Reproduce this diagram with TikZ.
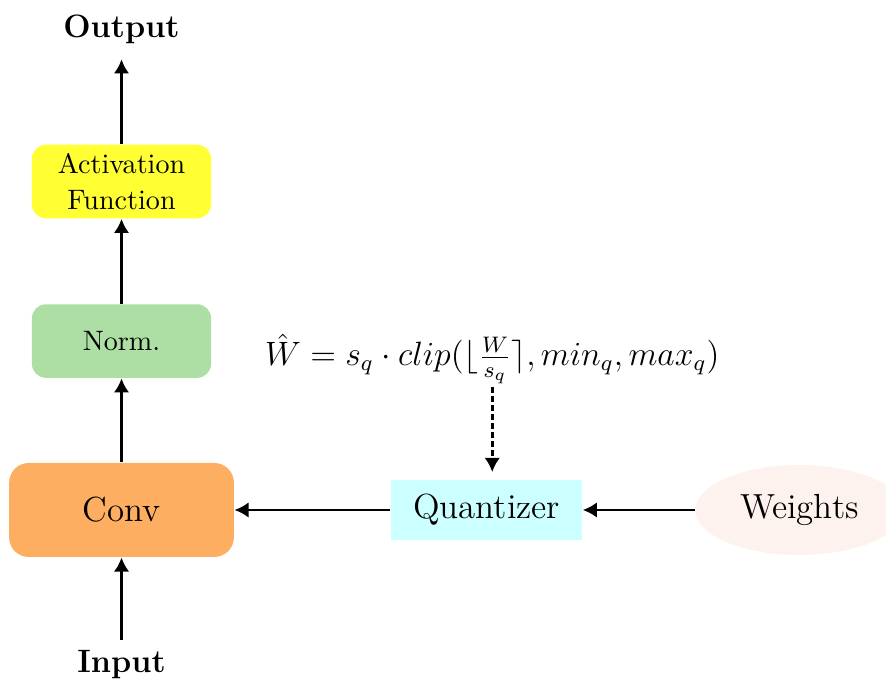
\documentclass[tikz,border=0pt]{standalone}
\usepackage{amsmath,amssymb}
\usepackage{xcolor}
\usepackage{tikz}
\usetikzlibrary{positioning,shapes.geometric,arrows.meta}
\definecolor{actyellow}{HTML}{FFFF33}
\definecolor{normgreen}{HTML}{ADDFA5}
\definecolor{convorange}{HTML}{FDAE61}
\definecolor{quantcyan}{HTML}{CCFFFF}
\definecolor{weightpeach}{HTML}{FDF2EE}

\begin{document}
\begin{tikzpicture}[
    block/.style={rectangle, rounded corners=5pt, minimum width=2.24cm, minimum height=0.92cm,
        inner ysep=2pt, align=center, font=\fontsize{10}{12.5}\selectfont},
    big/.style={font=\fontsize{12.4}{15}\selectfont},
    io/.style={font=\fontsize{11.5}{13}\selectfont\bfseries},
    arr/.style={-{Latex[length=5pt, width=5.5pt]}, line width=0.9pt}
]
\useasboundingbox (-1.519,-2.15) rectangle (9.556,6.375);
\node[block, big, fill=convorange, rounded corners=7pt, minimum width=2.81cm, minimum height=1.175cm] (conv) at (0,0) {Conv};
\node[block, fill=normgreen, above=1.05cm of conv] (norm) {Norm.};
\node[block, fill=actyellow, above=1.06cm of norm] (act) {Activation\\Function};
\node[io, above=1.13cm of act] (output) {Output};
\node[io, below=1.03cm of conv] (input) {Input};
\node[rectangle, big, fill=quantcyan, minimum width=2.39cm, minimum height=0.76cm, right=1.95cm of conv] (quant) {Quantizer};
\node[ellipse, big, fill=weightpeach, minimum width=2.6cm, minimum height=1.125cm, right=1.4cm of quant] (weights) {Weights};
\node[font=\fontsize{12}{14}\selectfont, above=1.15cm of quant, xshift=0.07cm, inner sep=1pt] (formula)
    {$\hat{W} = s_q \cdot clip(\lfloor \frac{W}{s_q} \rceil, min_q, max_q)$};
% main path
\draw[arr] (input) -- (conv);
\draw[arr] (conv) -- (norm);
\draw[arr] (norm) -- (act);
\draw[arr, shorten >=2pt] (act) -- (output);
% weight path
\draw[arr] (weights) -- (quant);
\draw[arr] (quant) -- (conv);
\draw[arr, dash pattern=on 2pt off 1.2pt, shorten >=2.5pt] (formula) -- (formula |- quant.north);
\end{tikzpicture}
\end{document}
